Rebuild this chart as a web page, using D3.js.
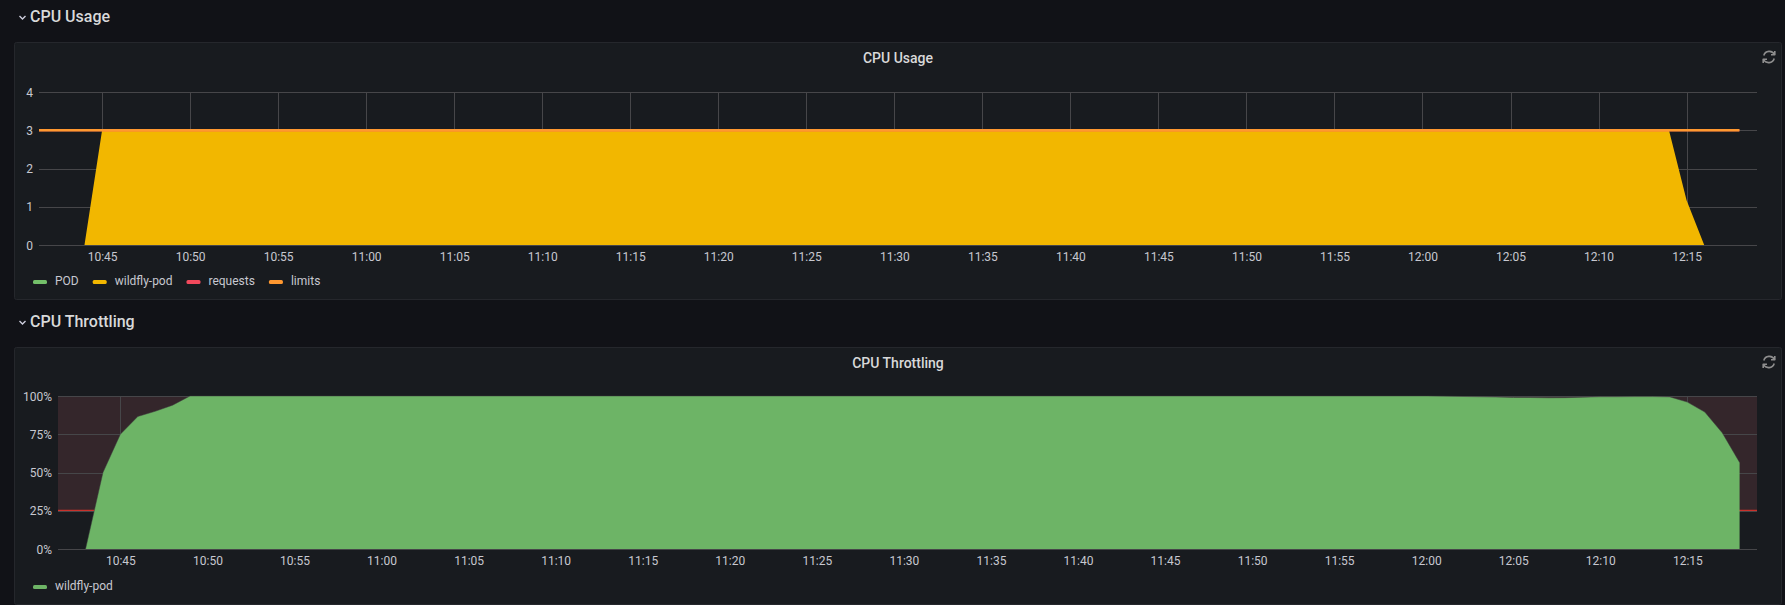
<!DOCTYPE html>
<html>
<head>
<meta charset="utf-8">
<script src="https://cdn.jsdelivr.net/npm/d3@7"></script>
<style>
  html, body { margin: 0; padding: 0; background: #111217; }
  svg { display: block; font-family: Roboto, "Noto Sans", sans-serif; }
</style>
</head>
<body>
<svg id="dash" width="1785" height="605"></svg>
<script>
// Zeitbereich des Dashboards
const rangeStart = "10:41:25";
const rangeEnd = "12:19:00";

// CPU Usage
const usageYTicks = [0, 1, 2, 3, 4];
const wildflyTimes = ["10:44", "10:45", "12:14", "12:15", "12:16"];
const wildflyValues = [0, 3, 3, 1.17, 0];
const podTimes = [];
const podValues = [];
const requestsTimes = ["10:41", "12:18"];
const requestsValues = [3, 3];
const limitsTimes = ["10:41", "12:18"];
const limitsValues = [3, 3];
const usageLegend = ["POD", "wildfly-pod", "requests", "limits"];

// CPU Throttling
const throttleYTicks = [0, 0.25, 0.5, 0.75, 1];
const throttleTimes = [
  "10:43", "10:44", "10:45", "10:46", "10:47", "10:48", "10:49", "11:59",
  "12:00", "12:01", "12:02", "12:03", "12:04", "12:05", "12:06", "12:07",
  "12:08", "12:09", "12:10", "12:11", "12:12", "12:13", "12:14", "12:15",
  "12:16", "12:17", "12:18"
];
const throttleValues = [
  0, 0.50, 0.75, 0.866, 0.90, 0.94, 1.0, 1.0,
  1.0, 0.999, 0.997, 0.995, 0.993, 0.991, 0.990, 0.988,
  0.989, 0.992, 0.995, 0.995, 0.996, 0.996, 0.994, 0.96,
  0.895, 0.76, 0.566
];
const throttleThreshold = 0.25;
const throttleLegend = ["wildfly-pod"];

const usageColors = {
  "POD": "#73bf69",
  "wildfly-pod": "#f2b700",
  "requests": "#f2495c",
  "limits": "#ff9830"
};
const throttleColors = {
  "wildfly-pod": "#6db466"
};

const parseT = s => {
  const p = s.split(":").map(Number);
  return new Date(2021, 0, 1, p[0], p[1], p[2] || 0);
};
const toPoints = (times, values) => times.map((t, i) => ({ t: parseT(t), v: values[i] }));

const svg = d3.select("#dash");

// Zeilenkopf (Chevron + Titel)
function rowHeader(y, label) {
  svg.append("path")
    .attr("d", `M19.5,${y - 2} L22.5,${y + 1} L25.5,${y - 2}`)
    .attr("fill", "none")
    .attr("stroke", "#ccccdc")
    .attr("stroke-width", 1.4);
  svg.append("text")
    .attr("x", 30)
    .attr("y", y)
    .attr("dominant-baseline", "middle")
    .attr("fill", "#d8d9da")
    .attr("font-size", "16px")
    .attr("font-weight", 500)
    .text(label);
}

function refreshIcon(cx, cy) {
  const g = svg.append("g")
    .attr("transform", `translate(${cx},${cy})`)
    .attr("fill", "none")
    .attr("stroke", "#8e8e8e")
    .attr("stroke-width", 1.6);
  g.append("path").attr("d", "M5.5,-2.5 A5.8,5.8 0 0 0 -5.2,-1.5");
  g.append("path").attr("d", "M-5.5,2.5 A5.8,5.8 0 0 0 5.2,1.5");
  g.append("path").attr("d", "M5.8,-6 L5.8,-2.2 L2,-2.2").attr("stroke-linejoin", "round");
  g.append("path").attr("d", "M-5.8,6 L-5.8,2.2 L-2,2.2").attr("stroke-linejoin", "round");
}

function panel({ top, height, title, plot, yTicks, yFormat, legend, colors, draw }) {
  svg.append("rect")
    .attr("x", 14.5)
    .attr("y", top + 0.5)
    .attr("width", 1767)
    .attr("height", height)
    .attr("rx", 2)
    .attr("fill", "#181b1f")
    .attr("stroke", "#25272c");

  svg.append("text")
    .attr("x", 898)
    .attr("y", top + 17)
    .attr("text-anchor", "middle")
    .attr("dominant-baseline", "middle")
    .attr("fill", "#d8d9da")
    .attr("font-size", "14px")
    .attr("font-weight", 500)
    .text(title);

  refreshIcon(1769, top + 15);

  const x = d3.scaleTime()
    .domain([parseT(rangeStart), parseT(rangeEnd)])
    .range([plot.left, plot.right]);
  const y = d3.scaleLinear()
    .domain([yTicks[0], yTicks[yTicks.length - 1]])
    .range([plot.bottom, plot.top]);

  const clipId = "clip-" + top;
  svg.append("clipPath").attr("id", clipId)
    .append("rect")
    .attr("x", plot.left).attr("y", plot.top - 2)
    .attr("width", plot.right - plot.left)
    .attr("height", plot.bottom - plot.top + 2);

  const back = svg.append("g");
  const grid = svg.append("g");
  const front = svg.append("g").attr("clip-path", `url(#${clipId})`);

  // Gitter
  const xTicks = x.ticks(d3.timeMinute.every(5));
  grid.selectAll(".vgrid")
    .data(xTicks)
    .join("line")
    .attr("x1", d => Math.round(x(d)) + 0.5)
    .attr("x2", d => Math.round(x(d)) + 0.5)
    .attr("y1", plot.top)
    .attr("y2", plot.bottom)
    .attr("stroke", "#464649")
    .attr("stroke-width", 1);
  grid.selectAll(".hgrid")
    .data(yTicks)
    .join("line")
    .attr("x1", plot.left)
    .attr("x2", plot.right)
    .attr("y1", d => Math.round(y(d)) + 0.5)
    .attr("y2", d => Math.round(y(d)) + 0.5)
    .attr("stroke", "#464649")
    .attr("stroke-width", 1);

  // Achsenbeschriftung
  const yAxis = svg.append("g")
    .attr("transform", `translate(${plot.left - 6},0)`)
    .call(d3.axisLeft(y).tickValues(yTicks).tickFormat(yFormat).tickSize(0).tickPadding(0));
  const xAxis = svg.append("g")
    .attr("transform", `translate(0,${plot.bottom + 7})`)
    .call(d3.axisBottom(x).ticks(d3.timeMinute.every(5)).tickFormat(d3.timeFormat("%H:%M")).tickSize(0).tickPadding(0));
  [xAxis, yAxis].forEach(a => {
    a.select(".domain").remove();
    a.selectAll("text")
      .attr("fill", "#c7c8d0")
      .attr("font-size", "12px")
      .attr("font-family", "Roboto, sans-serif");
  });
  yAxis.selectAll("text").attr("dy", "0.34em");
  xAxis.selectAll("text").attr("dy", "0.75em");

  draw({ x, y, back, front, plot });

  // Legende
  let lx = 33;
  const ly = top + height - 17;
  legend.forEach(name => {
    svg.append("rect")
      .attr("x", lx)
      .attr("y", ly - 2)
      .attr("width", 14)
      .attr("height", 4)
      .attr("rx", 1.5)
      .attr("fill", colors[name]);
    const t = svg.append("text")
      .attr("x", lx + 22)
      .attr("y", ly)
      .attr("dominant-baseline", "middle")
      .attr("fill", "#c7c8d0")
      .attr("font-size", "12px")
      .text(name);
    lx += 22 + t.node().getComputedTextLength() + 14;
  });
}

rowHeader(18, "CPU Usage");
rowHeader(323, "CPU Throttling");

panel({
  top: 42,
  height: 257,
  title: "CPU Usage",
  plot: { left: 39, right: 1757, top: 92, bottom: 245 },
  yTicks: usageYTicks,
  yFormat: d3.format("d"),
  legend: usageLegend,
  colors: usageColors,
  draw: ({ x, y, front }) => {
    const area = d3.area().x(d => x(d.t)).y0(y(0)).y1(d => y(d.v));
    const line = d3.line().x(d => x(d.t)).y(d => y(d.v));
    front.append("path")
      .datum(toPoints(wildflyTimes, wildflyValues))
      .attr("d", area)
      .attr("fill", usageColors["wildfly-pod"]);
    front.append("path")
      .datum(toPoints(podTimes, podValues))
      .attr("d", line)
      .attr("fill", "none")
      .attr("stroke", usageColors["POD"])
      .attr("stroke-width", 2);
    front.append("path")
      .datum(toPoints(requestsTimes, requestsValues))
      .attr("d", line)
      .attr("fill", "none")
      .attr("stroke", usageColors["requests"])
      .attr("stroke-width", 2);
    front.append("path")
      .datum(toPoints(limitsTimes, limitsValues))
      .attr("d", line)
      .attr("fill", "none")
      .attr("stroke", usageColors["limits"])
      .attr("stroke-width", 2.5);
  }
});

panel({
  top: 347,
  height: 257,
  title: "CPU Throttling",
  plot: { left: 58, right: 1757, top: 396, bottom: 549 },
  yTicks: throttleYTicks,
  yFormat: d3.format(".0%"),
  legend: throttleLegend,
  colors: throttleColors,
  draw: ({ x, y, back, front, plot }) => {
    // Schwellwert-Bereich (kritisch ab 25%)
    back.append("rect")
      .attr("x", plot.left)
      .attr("y", y(1))
      .attr("width", plot.right - plot.left)
      .attr("height", y(throttleThreshold) - y(1))
      .attr("fill", "#34262b");
    back.append("line")
      .attr("x1", plot.left)
      .attr("x2", plot.right)
      .attr("y1", y(throttleThreshold))
      .attr("y2", y(throttleThreshold))
      .attr("stroke", "#c8312b")
      .attr("stroke-width", 2);

    const area = d3.area().x(d => x(d.t)).y0(y(0)).y1(d => y(d.v));
    front.append("path")
      .datum(toPoints(throttleTimes, throttleValues))
      .attr("d", area)
      .attr("fill", throttleColors["wildfly-pod"]);
    // dünne Oberkante wie im Original
    front.append("path")
      .datum(toPoints(throttleTimes, throttleValues))
      .attr("d", d3.line().x(d => x(d.t)).y(d => y(d.v)))
      .attr("fill", "none")
      .attr("stroke", "#3d3a3e")
      .attr("stroke-width", 0.8)
      .attr("stroke-opacity", 0.6);
  }
});
</script>
</body>
</html>
